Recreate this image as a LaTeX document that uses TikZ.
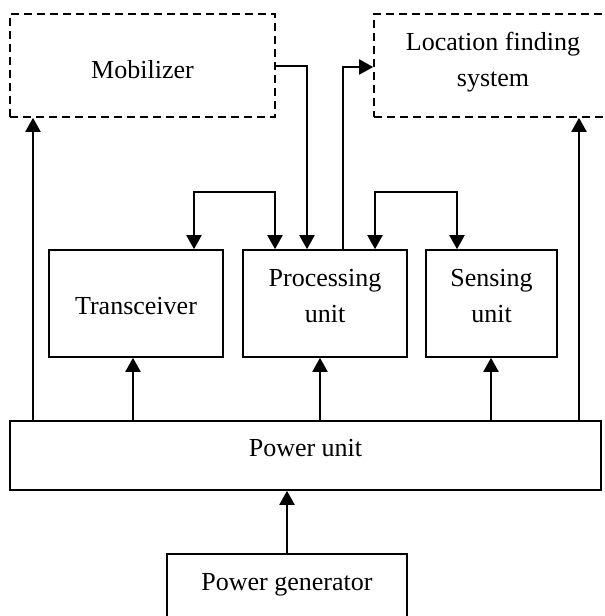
\documentclass[tikz,border=0pt]{standalone}
\usepackage{fontspec}
\setmainfont{Liberation Serif}
\usetikzlibrary{arrows.meta}

\begin{document}
\begin{tikzpicture}[x=0.5pt,y=0.5pt,yscale=-1,xscale=1,
  blk/.style={draw,line width=0.8pt,inner sep=0pt,align=center,font=\fontsize{13}{18}\selectfont},
  dashblk/.style={blk,dash pattern=on 4pt off 2.5pt},
  arr/.style={line width=1pt,-{Triangle[width=7.5pt,length=7pt]}},
  darr/.style={line width=1pt,{Triangle[width=7.5pt,length=7pt]}-{Triangle[width=7.5pt,length=7pt]}}]

\useasboundingbox (0,0) rectangle (605,616);

\node [dashblk,minimum width=132.5pt,minimum height=51.5pt,text height=13pt] (mob) at (142.5,65.5) {Mobilizer};
\node [dashblk,minimum width=119pt,minimum height=51.5pt,text depth=6pt] (loc) at (493,65.5) {Location finding\\system};
\node [blk,minimum width=87pt,minimum height=53.5pt,text height=10.8pt] (trx) at (136,303.5) {Transceiver};
\node [blk,minimum width=82pt,minimum height=53.5pt,text depth=8pt] (proc) at (325,303.5) {Processing\\unit};
\node [blk,minimum width=65.5pt,minimum height=53.5pt,text depth=8pt] (sens) at (491.5,303.5) {Sensing\\unit};
\node [blk,minimum width=295.5pt,minimum height=34.5pt,text depth=8pt] (pwr) at (305.5,455.5) {Power unit};
\node [blk,minimum width=120pt,minimum height=36pt,text depth=8pt] (gen) at (287,590) {Power generator};

\coordinate (b1) at (194,192);
\coordinate (b2) at (275,192);
\coordinate (b3) at (375,192);
\coordinate (b4) at (457,192);
\coordinate (m1) at (307,66);
\coordinate (l1) at (343,67);
\coordinate (pm) at (33,0);
\coordinate (pt) at (133,0);
\coordinate (pp) at (320,0);
\coordinate (ps) at (491,0);
\coordinate (pl) at (579,0);

\draw [arr] (gen.north) -- (gen.north |- pwr.south);
\draw [arr] (pwr.north -| pm) -- (mob.south -| pm);
\draw [arr] (pwr.north -| pt) -- (trx.south -| pt);
\draw [arr] (pwr.north -| pp) -- (proc.south -| pp);
\draw [arr] (pwr.north -| ps) -- (sens.south -| ps);
\draw [arr] (pwr.north -| pl) -- (loc.south -| pl);

\draw [darr] (trx.north -| b1) -- (b1) -- (b2) -- (proc.north -| b2);
\draw [darr] (proc.north -| b3) -- (b3) -- (b4) -- (sens.north -| b4);
\draw [arr] (mob.east |- m1) -| (proc.north -| m1);
\draw [arr] (proc.north -| l1) |- (loc.west |- l1);

\end{tikzpicture}
\end{document}
